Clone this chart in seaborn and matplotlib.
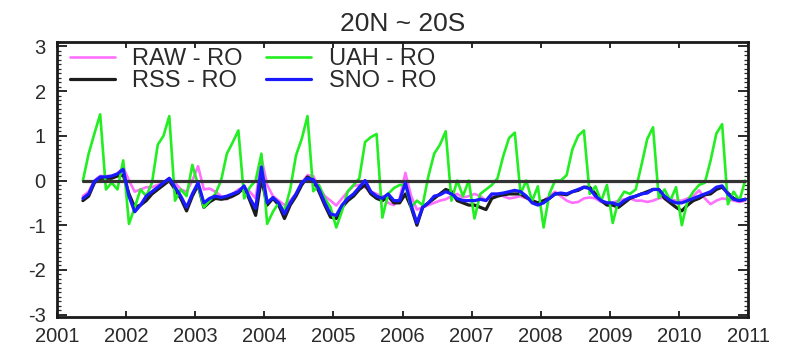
import numpy as np
import pandas as pd
import matplotlib
matplotlib.use('Agg')
import matplotlib.pyplot as plt
from matplotlib.ticker import MultipleLocator
import seaborn as sns

# monthly series, May 2001 .. Dec 2010
first_month = '2001-05'
last_month = '2010-12'

raw_ro = [
    -0.35, -0.25, 0.00, 0.10, 0.10, 0.10, 0.15, 0.30,                       # 2001
    0.00, -0.25, -0.20, -0.15, -0.15, -0.10, -0.05, 0.05, -0.05, -0.20, -0.25, 0.00,   # 2002
    0.32, -0.20, -0.18, -0.25, -0.35, -0.42, -0.30, -0.20, -0.15, -0.25, -0.40, 0.50,  # 2003
    -0.10, -0.35, -0.45, -0.55, -0.45, -0.30, -0.05, 0.12, 0.10, -0.15, -0.35, -0.45,  # 2004
    -0.56, -0.40, -0.25, -0.12, -0.10, -0.15, -0.25, -0.30, -0.35, -0.50, -0.55, -0.40,  # 2005
    0.17, -0.35, -0.65, -0.60, -0.55, -0.50, -0.45, -0.42, -0.35, -0.30, -0.38, -0.35,  # 2006
    -0.30, -0.35, -0.45, -0.35, -0.30, -0.35, -0.40, -0.38, -0.35, -0.40, -0.45, -0.50,  # 2007
    -0.45, -0.35, -0.25, -0.35, -0.45, -0.50, -0.48, -0.40, -0.38, -0.40, -0.48, -0.50,  # 2008
    -0.50, -0.45, -0.42, -0.40, -0.45, -0.45, -0.48, -0.45, -0.40, -0.38, -0.42, -0.45,  # 2009
    -0.45, -0.40, -0.35, -0.22, -0.40, -0.53, -0.45, -0.40, -0.42, -0.45, -0.48, -0.45,  # 2010
]

rss_ro = [
    -0.45, -0.35, -0.05, 0.05, 0.05, 0.05, 0.10, 0.12,
    -0.30, -0.60, -0.55, -0.45, -0.30, -0.20, -0.10, 0.00, -0.20, -0.40, -0.68, -0.35,
    -0.10, -0.60, -0.48, -0.40, -0.42, -0.40, -0.35, -0.28, -0.15, -0.45, -0.78, 0.05,
    -0.55, -0.40, -0.55, -0.85, -0.55, -0.35, -0.10, 0.08, 0.00, -0.25, -0.55, -0.82,
    -0.85, -0.60, -0.45, -0.35, -0.20, -0.10, -0.30, -0.40, -0.45, -0.35, -0.50, -0.50,
    -0.30, -0.60, -1.00, -0.60, -0.50, -0.40, -0.30, -0.20, -0.25, -0.45, -0.50, -0.55,
    -0.55, -0.60, -0.65, -0.40, -0.35, -0.32, -0.30, -0.30, -0.30, -0.38, -0.45, -0.50,
    -0.45, -0.40, -0.30, -0.30, -0.32, -0.25, -0.22, -0.15, -0.15, -0.30, -0.45, -0.55,
    -0.55, -0.60, -0.50, -0.40, -0.35, -0.30, -0.25, -0.20, -0.20, -0.40, -0.50, -0.60,
    -0.68, -0.55, -0.45, -0.40, -0.32, -0.30, -0.20, -0.15, -0.28, -0.40, -0.45, -0.42,
]

uah_ro = [
    0.00, 0.60, 1.05, 1.48, -0.20, -0.05, -0.20, 0.45,
    -0.97, -0.60, -0.20, -0.35, -0.05, 0.80, 1.00, 1.44, -0.45, -0.20, -0.35, 0.35,
    -0.10, -0.60, -0.45, -0.30, 0.00, 0.60, 0.85, 1.12, -0.40, -0.15, 0.00, 0.60,
    -0.97, -0.70, -0.50, -0.68, -0.20, 0.56, 0.93, 1.44, -0.24, -0.10, -0.40, -0.60,
    -1.05, -0.68, -0.24, -0.10, 0.05, 0.86, 0.97, 1.04, -0.83, -0.30, -0.17, -0.10,
    -0.10, -0.60, -0.45, -0.55, 0.10, 0.60, 0.80, 1.10, -0.45, 0.00, -0.35, 0.00,
    -0.85, -0.30, -0.20, -0.10, 0.05, 0.55, 0.95, 1.07, -0.30, 0.00, -0.46, -0.13,
    -1.05, -0.30, 0.00, 0.00, 0.12, 0.70, 1.00, 1.12, -0.30, -0.13, -0.46, -0.10,
    -0.95, -0.45, -0.25, -0.30, -0.20, 0.35, 0.93, 1.19, -0.39, -0.20, -0.45, -0.15,
    -1.00, -0.45, -0.25, -0.10, -0.05, 0.45, 1.05, 1.26, -0.53, -0.25, -0.45, 0.00,
]

sno_ro = [
    -0.40, -0.30, -0.02, 0.08, 0.08, 0.10, 0.15, 0.25,
    -0.35, -0.70, -0.55, -0.35, -0.25, -0.15, -0.05, 0.05, -0.15, -0.35, -0.60, -0.30,
    -0.05, -0.50, -0.40, -0.35, -0.38, -0.35, -0.30, -0.25, -0.12, -0.40, -0.62, 0.30,
    -0.50, -0.38, -0.50, -0.75, -0.50, -0.30, -0.05, 0.05, 0.02, -0.20, -0.50, -0.75,
    -0.78, -0.55, -0.40, -0.30, -0.15, 0.00, -0.25, -0.35, -0.40, -0.30, -0.45, -0.45,
    -0.05, -0.55, -0.95, -0.60, -0.50, -0.35, -0.32, -0.25, -0.30, -0.40, -0.45, -0.45,
    -0.45, -0.42, -0.45, -0.30, -0.30, -0.28, -0.25, -0.22, -0.25, -0.35, -0.50, -0.55,
    -0.50, -0.40, -0.30, -0.28, -0.30, -0.25, -0.20, -0.15, -0.18, -0.35, -0.45, -0.50,
    -0.50, -0.55, -0.45, -0.38, -0.35, -0.30, -0.28, -0.20, -0.20, -0.35, -0.45, -0.50,
    -0.50, -0.45, -0.40, -0.35, -0.30, -0.25, -0.15, -0.12, -0.30, -0.42, -0.45, -0.42,
]

year_ticks = list(range(2001, 2012))
y_ticks = [-3, -2, -1, 0, 1, 2, 3]

months = pd.period_range(first_month, last_month, freq='M')
df = pd.DataFrame({
    't': months.year + (months.month - 0.5) / 12.0,
    'RAW - RO': raw_ro,
    'RSS - RO': rss_ro,
    'UAH - RO': uah_ro,
    'SNO - RO': sno_ro,
})
df['zero'] = 0.0

sns.set_style('white')
plt.rcParams['font.family'] = ['Liberation Sans', 'DejaVu Sans']
plt.rcParams['axes.unicode_minus'] = False
text_col = '#2a2a2a'

fig = plt.figure(figsize=(7.86, 3.49), dpi=100)
ax = fig.add_axes([0.0725, 0.092, 0.8792, 0.788])

styles = [
    ('RAW - RO', '#ff70ff', 1.9, 2.0),
    ('RSS - RO', '#1c1c1c', 2.3, 2.1),
    ('UAH - RO', '#22ee22', 1.9, 2.2),
    ('SNO - RO', '#1a1aff', 2.3, 2.4),
]
for name, col, lw, z in styles:
    sns.lineplot(data=df, x='t', y=name, color=col, lw=lw, label=name,
                 ax=ax, zorder=z)
sns.lineplot(data=df, x='t', y='zero', color='#333333', lw=2.3, ax=ax,
             zorder=2.3, legend=False)

ax.set_xlim(2001, 2011)
ax.set_ylim(-3.05, 3.1)
ax.set_xticks(year_ticks)
ax.set_xticklabels([str(y) for y in year_ticks])
ax.set_yticks(y_ticks)
ax.set_yticklabels([str(v) for v in y_ticks])
ax.yaxis.set_minor_locator(MultipleLocator(0.1))
ax.set_xlabel('')
ax.set_ylabel('')

ax.tick_params(axis='x', which='major', direction='in', length=4, width=1.4,
               top=True, bottom=True, labelsize=14.5, pad=7, colors=text_col)
ax.tick_params(axis='y', which='major', direction='in', length=7, width=1.4,
               left=True, right=True, labelsize=14.5, pad=8, colors=text_col)
ax.tick_params(axis='y', which='minor', direction='in', length=3, width=0.9,
               left=True, right=True, colors=text_col)
for sp in ax.spines.values():
    sp.set_linewidth(2.0)
    sp.set_color('#1a1a1a')

ax.set_title('20N ~ 20S', fontsize=19, color=text_col, pad=8)

leg = ax.legend(loc='upper left', ncol=2, frameon=False, fontsize=17,
                handlelength=1.9, handletextpad=0.75, columnspacing=1.0,
                labelspacing=0.0, borderaxespad=0.2, bbox_to_anchor=(-0.002, 1.03))
for txt in leg.get_texts():
    txt.set_color(text_col)

fig.savefig('out.png', dpi=100)
